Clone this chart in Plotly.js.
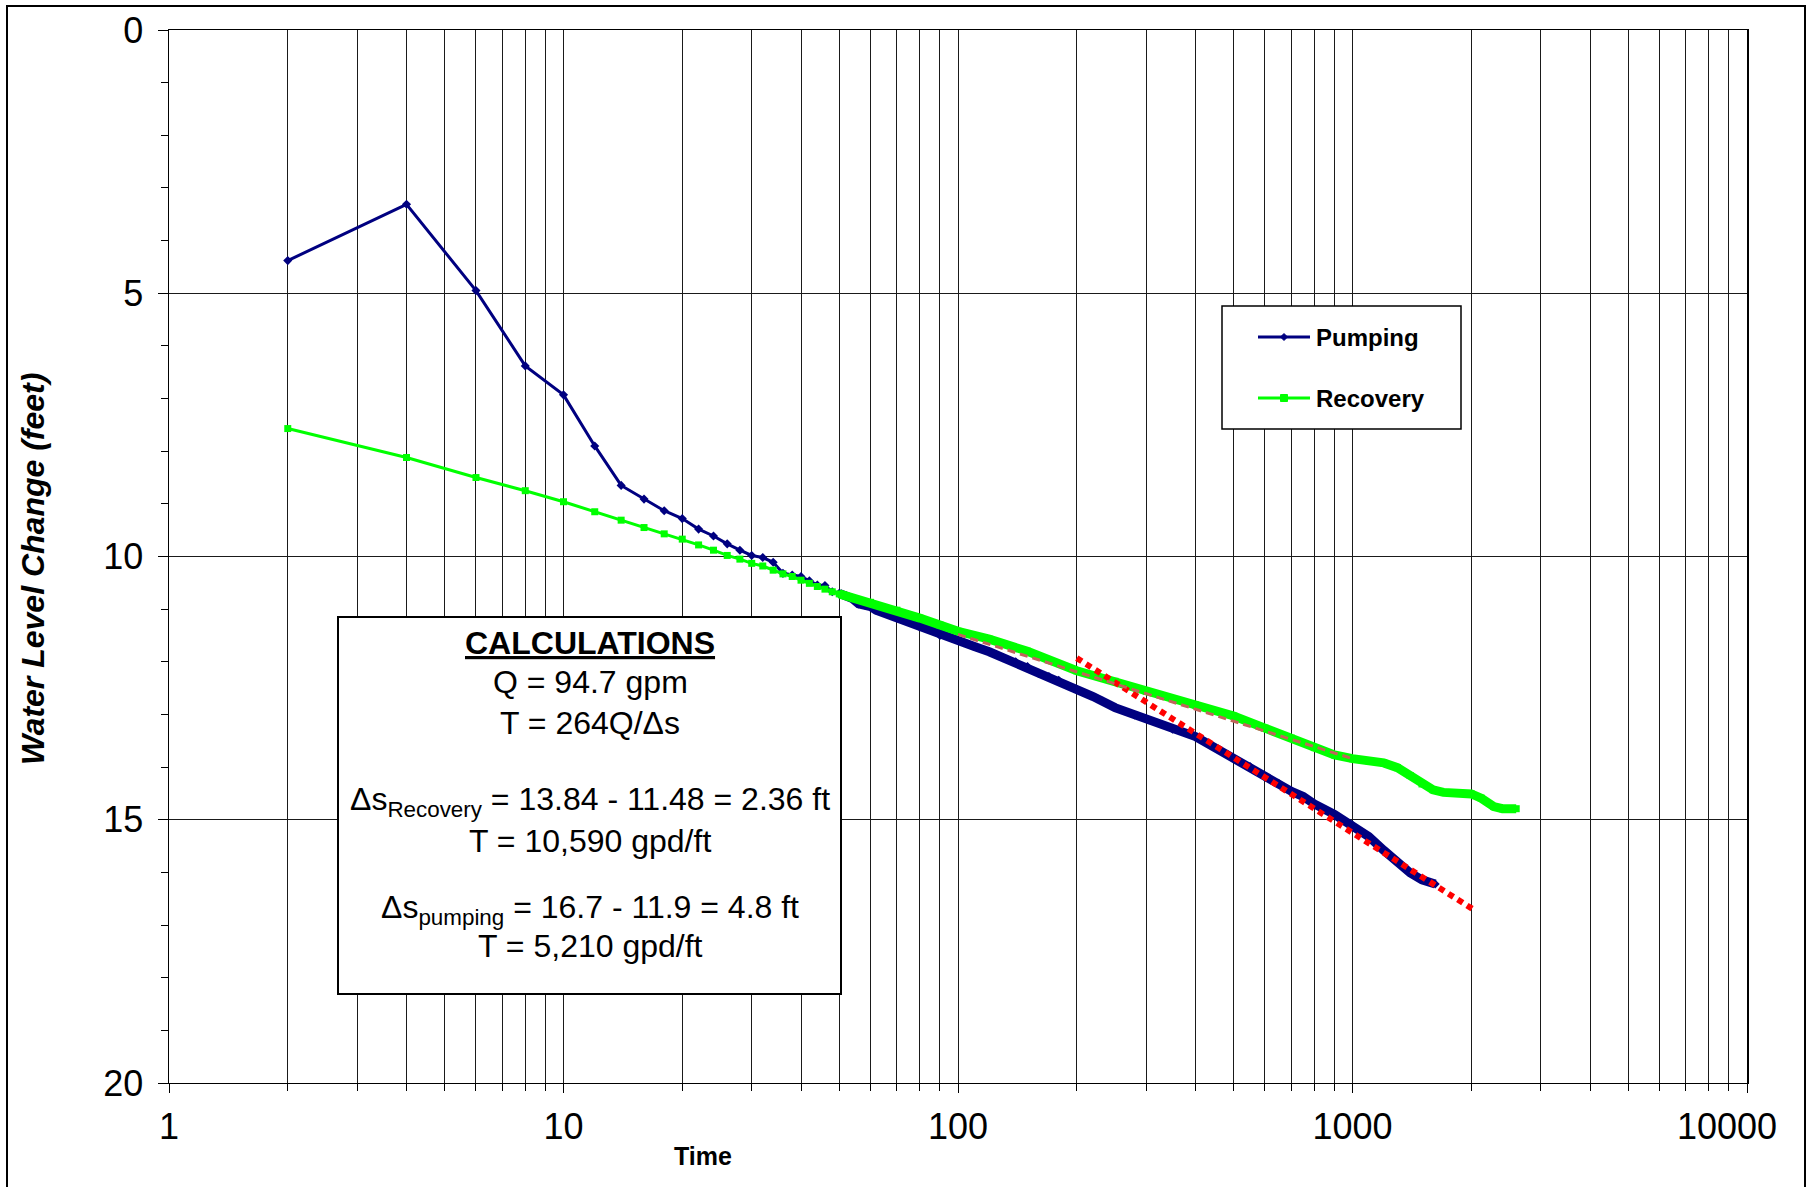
<!DOCTYPE html>
<html><head><meta charset="utf-8">
<script src="https://cdn.plot.ly/plotly-3.0.1.min.js"></script>
<style>html,body{margin:0;padding:0;background:#fff;} #chart{width:1816px;height:1187px;}</style>
</head><body><div id="chart"></div>
<script>
// ---------------- data ----------------
const pumpTime  = [2,4,6,8,10,12,14,16,18,20,22,24,26,28,30,32,34,36,38,40,42,44,46,48,50,52,54,56,58,60,62,
                   70,80,90,100,110,120,130,140,150,160,170,180,200,220,250,280,300,350,400,450,500,550,600,650,
                   700,750,800,900,1000,1100,1200,1300,1400,1500,1620];
const pumpLevel = [4.38,3.31,4.95,6.38,6.93,7.90,8.65,8.91,9.13,9.28,9.48,9.61,9.76,9.88,9.98,10.02,10.11,10.32,10.35,10.38,10.46,10.54,10.55,10.67,10.70,10.74,10.80,10.90,10.92,10.95,11.02,
                   11.17,11.34,11.50,11.59,11.71,11.81,11.92,12.00,12.09,12.22,12.28,12.35,12.52,12.66,12.87,13.01,13.08,13.28,13.42,13.64,13.84,13.99,14.19,14.31,
                   14.46,14.56,14.70,14.90,15.10,15.32,15.58,15.80,16.01,16.14,16.22];
const recTime   = [2,4,6,8,10,12,14,16,18,20,22,24,26,28,30,32,34,36,38,40,42,44,46,48,50,55,60,70,80,90,100,120,150,
                   200,250,300,400,500,600,700,800,900,1000,1100,1200,1300,1400,1500,1600,1700,1800,2000,2120,2280,2400,2600];
const recLevel  = [7.57,8.12,8.50,8.75,8.96,9.15,9.31,9.45,9.57,9.67,9.78,9.88,9.98,10.05,10.13,10.18,10.26,10.33,10.38,10.45,10.51,10.57,10.62,10.67,10.71,10.80,10.87,11.02,11.17,11.30,11.42,11.57,11.80,
                   12.17,12.37,12.56,12.82,13.03,13.26,13.45,13.63,13.77,13.84,13.88,13.92,14.01,14.16,14.32,14.43,14.48,14.49,14.51,14.59,14.75,14.79,14.79];
const pumpFitTime  = [200, 2050];
const pumpFitLevel = [11.93, 16.73];
const recFitTime   = [100, 1000];
const recFitLevel  = [11.48, 13.84];

const xTickVals = [1, 10, 100, 1000, 10000];
const xTickText = ['1', '10', '100', '1000', '10000\u2007\u2007'];
const yTickVals = [0, 5, 10, 15, 20];
const yTickText = ['0', '5', '10', '15', '20'];
const seriesNames = ['Pumping', 'Recovery'];
const xTitle = 'Time';
const yTitle = 'Water Level Change (feet)';
const calcLines = [
  '<b><u>CALCULATIONS</u></b>',
  'Q = 94.7 gpm',
  'T = 264Q/\u0394s',
  '\u0394s<sub>Recovery</sub> = 13.84 - 11.48 = 2.36 ft',
  'T = 10,590 gpd/ft',
  '\u0394s<sub>pumping</sub> = 16.7 - 11.9 = 4.8 ft',
  'T = 5,210 gpd/ft'
];

// ---------------- layout helpers ----------------
const W = 1816, H = 1187, ML = 169, MR = 69, MT = 30, MB = 104;
const PW = W - ML - MR, PH = H - MT - MB;
const px = v => (v - ML) / PW;
const py = v => (H - MB - v) / PH;
const FONT = 'Liberation Sans, Arial, Helvetica, sans-serif';
const NAVY = '#000080', LIME = '#00FF00';
const GRID = '#1a1a1a';

const bandStart = 50;
function band(t, v) {
  const xs = [], ys = [];
  t.forEach((tt, i) => { if (tt >= bandStart) { xs.push(tt); ys.push(v[i]); } });
  return [xs, ys];
}
const [pbx, pby] = band(pumpTime, pumpLevel);
const [rbx, rby] = band(recTime, recLevel);

const minorX = [];
for (let d = 1; d <= 1000; d *= 10) for (let k = 2; k <= 9; k++) minorX.push(k * d);
const minorY = [];
for (let i = 0; i <= 20; i++) minorY.push(i);

const traces = [
  {x: pbx, y: pby, mode: 'lines', line: {color: NAVY, width: 9}, showlegend: false, hoverinfo: 'skip'},
  {x: pumpTime, y: pumpLevel, name: seriesNames[0], mode: 'lines+markers',
   line: {color: NAVY, width: 3}, marker: {symbol: 'diamond', size: 7, color: NAVY}, showlegend: false},
  {x: rbx, y: rby, mode: 'lines', line: {color: LIME, width: 9}, showlegend: false, hoverinfo: 'skip'},
  {x: recTime, y: recLevel, name: seriesNames[1], mode: 'lines+markers',
   line: {color: LIME, width: 3}, marker: {symbol: 'square', size: 7, color: LIME}, showlegend: false},
  {x: pumpFitTime, y: pumpFitLevel, mode: 'lines', line: {color: '#FF0000', width: 6, dash: '6px,5px'}, showlegend: false},
  {x: recFitTime, y: recFitLevel, mode: 'lines', line: {color: '#C0645A', width: 3, dash: '8px,5px'}, showlegend: false}
];

const shapes = [
  // outer chart border
  {type: 'rect', xref: 'paper', yref: 'paper', x0: px(7), x1: px(1805), y0: py(1195), y1: py(6),
   line: {color: '#000', width: 2}, fillcolor: 'rgba(0,0,0,0)', layer: 'below'},
  // calculations box
  {type: 'rect', xref: 'paper', yref: 'paper', x0: px(338), x1: px(841), y0: py(994), y1: py(617),
   line: {color: '#000', width: 2}, fillcolor: '#fff', layer: 'above'},
  // legend box
  {type: 'rect', xref: 'paper', yref: 'paper', x0: px(1222), x1: px(1461), y0: py(429), y1: py(306),
   line: {color: '#000', width: 1.5}, fillcolor: '#fff', layer: 'above'},
  // legend keys
  {type: 'line', xref: 'paper', yref: 'paper', x0: px(1258), x1: px(1310), y0: py(337), y1: py(337),
   line: {color: NAVY, width: 3}, layer: 'above'},
  {type: 'path', xref: 'paper', yref: 'paper', layer: 'above', fillcolor: NAVY, line: {color: NAVY, width: 1},
   path: `M${px(1284)},${py(333.5)} L${px(1287.5)},${py(337)} L${px(1284)},${py(340.5)} L${px(1280.5)},${py(337)} Z`},
  {type: 'line', xref: 'paper', yref: 'paper', x0: px(1258), x1: px(1310), y0: py(398), y1: py(398),
   line: {color: LIME, width: 3}, layer: 'above'},
  {type: 'rect', xref: 'paper', yref: 'paper', x0: px(1280.5), x1: px(1287.5), y0: py(401.5), y1: py(394.5),
   fillcolor: LIME, line: {color: LIME, width: 1}, layer: 'above'}
];

const calcY = [643, 682, 723, 801.6, 840.6, 909.2, 946];
const annotations = calcLines.map((t, i) => ({
  text: t, xref: 'paper', yref: 'paper', x: px(590), y: py(calcY[i]), xanchor: 'center', yanchor: 'middle',
  showarrow: false, font: {family: FONT, size: 32, color: '#000'}
}));
annotations.push(
  {text: '<b>' + seriesNames[0] + '</b>', xref: 'paper', yref: 'paper', x: px(1314), y: py(337), xanchor: 'left', yanchor: 'middle',
   showarrow: false, font: {family: FONT, size: 24, color: '#000'}},
  {text: '<b>' + seriesNames[1] + '</b>', xref: 'paper', yref: 'paper', x: px(1314), y: py(398.5), xanchor: 'left', yanchor: 'middle',
   showarrow: false, font: {family: FONT, size: 24, color: '#000'}},
  {text: '<b>' + xTitle + '</b>', xref: 'paper', yref: 'paper', x: px(703), y: py(1156), xanchor: 'center', yanchor: 'middle',
   showarrow: false, font: {family: FONT, size: 25, color: '#000'}},
  {text: '<b><i>' + yTitle + '</i></b>', xref: 'paper', yref: 'paper', x: px(33), y: py(569), xanchor: 'center', yanchor: 'middle',
   textangle: -90, showarrow: false, font: {family: FONT, size: 32, color: '#000'}}
);

const layout = {
  width: W, height: H,
  margin: {l: ML, r: MR, t: MT, b: MB, pad: 0},
  paper_bgcolor: '#fff', plot_bgcolor: '#fff',
  font: {family: FONT, color: '#000'},
  showlegend: false,
  xaxis: {
    type: 'log', range: [0, 4], autorange: false,
    tickmode: 'array', tickvals: xTickVals, ticktext: xTickText,
    ticks: 'outside', ticklen: 9, tickwidth: 1, tickcolor: '#000',
    showgrid: true, gridcolor: GRID, gridwidth: 1,
    showline: true, linecolor: '#000', linewidth: 1, mirror: true,
    zeroline: false, tickfont: {family: FONT, size: 36, color: '#000'},
    ticklabelstandoff: 3, ticklabeloverflow: 'allow',
    minor: {tickmode: 'array', tickvals: minorX, ticks: 'outside', ticklen: 7, tickcolor: '#000', tickwidth: 1,
            showgrid: true, gridcolor: GRID, gridwidth: 1}
  },
  yaxis: {
    range: [20, 0], autorange: false,
    tickmode: 'array', tickvals: yTickVals, ticktext: yTickText,
    ticks: 'outside', ticklen: 10, tickwidth: 1, tickcolor: '#000',
    showgrid: true, gridcolor: GRID, gridwidth: 1,
    showline: true, linecolor: '#000', linewidth: 1.5, mirror: true,
    zeroline: false, tickfont: {family: FONT, size: 36, color: '#000'},
    ticklabelstandoff: 7,
    minor: {tickmode: 'array', tickvals: minorY, ticks: 'outside', ticklen: 7, tickcolor: '#000', tickwidth: 1, showgrid: false}
  },
  shapes: shapes,
  annotations: annotations
};

Plotly.newPlot('chart', traces, layout, {staticPlot: true, displayModeBar: false});
</script>
</body></html>
